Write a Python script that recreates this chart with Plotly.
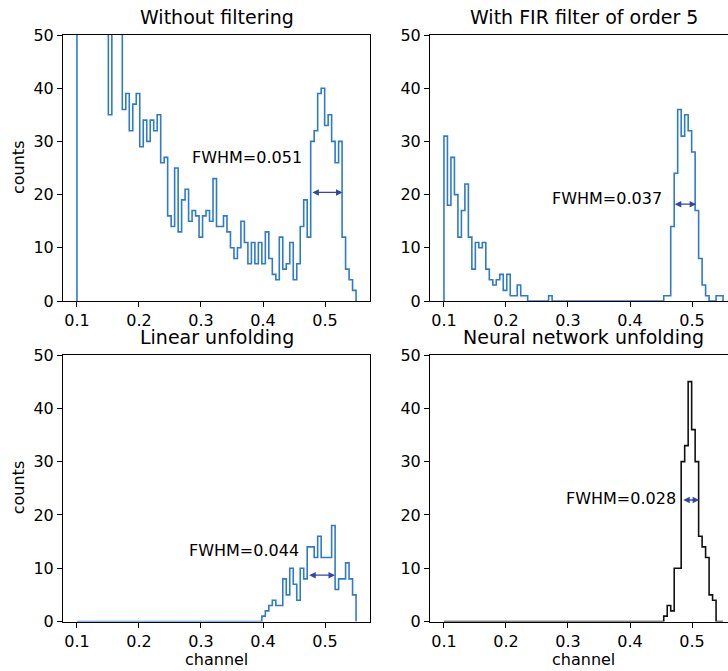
import numpy as np
import plotly.graph_objects as go

# ---- histogram binning (80 bins over the channel window) ----
bin_lo, bin_hi, n_bins = 0.1, 0.55, 80

panel_titles = [
    "Without filtering",
    "With FIR filter of order 5",
    "Linear unfolding",
    "Neural network unfolding",
]

# counts per bin, one list per processing method
counts_raw = [
    90, 72, 64, 60, 57, 55, 56, 53, 52, 35, 55, 57, 52,
    36, 39, 32, 37, 39, 29, 34, 30, 34, 32, 35, 26, 27,
    16, 14, 25, 13, 19, 21, 15, 17, 16, 12, 16, 17, 15, 23,
    14, 14, 16, 13, 10, 8, 10, 15, 11, 7, 11, 7, 11, 7,
    13, 8, 5, 4, 12, 6, 7, 11, 4, 7, 14, 19, 12,
    30, 32, 39, 40, 33, 35, 30, 26, 30, 12, 6, 4, 2,
]
counts_fir = [
    31, 18, 27, 20, 12, 17, 22, 12, 6, 11, 10, 11, 6, 4, 3, 4, 5, 2, 5, 1,
    1, 3, 1, 1, 0, 0, 0, 0, 0, 0, 1, 0, 0, 0, 0, 0, 0, 0, 0, 0,
    0, 0, 0, 0, 0, 0, 0, 0, 0, 0, 0, 0, 0, 0, 0, 0, 0, 0, 0, 0,
    0, 0, 0, 1, 1, 14, 24, 36, 31, 35, 32, 28, 17, 8, 3, 1, 0, 0, 1, 1,
]
counts_linear = [0] * 53 + [
    1, 2, 3, 4, 3, 3, 8, 5, 10, 7, 4, 10, 8, 14, 14, 12, 16, 12, 12, 12,
    18, 6, 8, 8, 11, 8, 5,
]
counts_nn = [0] * 63 + [
    1, 3, 2, 10, 10, 30, 33, 45, 36, 30, 16, 14, 12, 5, 4, 0, 0,
]

# FWHM annotations: value, arrow centre, arrow height, label anchor (right edge)
fwhm_values = [0.051, 0.037, 0.044, 0.028]
fwhm_centers = [0.5027, 0.4882, 0.4941, 0.4974]
fwhm_heights = [20.4, 18.2, 8.7, 22.8]
fwhm_label_x = [0.4655, 0.4542, 0.4607, 0.4768]
fwhm_label_y = [26.9, 19.2, 13.3, 23.0]

x_ticks = [0.1, 0.2, 0.3, 0.4, 0.5]
x_tick_labels = ["0.1", "0.2", "0.3", "0.4", "0.5"]
y_ticks = [0, 10, 20, 30, 40, 50]
y_tick_labels = ["0", "10", "20", "30", "40", "50"]

all_counts = [counts_raw, counts_fir, counts_linear, counts_nn]
line_colors = ["#2f7bc8", "#2f7bc8", "#2f7bc8", "#111111"]
arrow_color = "#3446a4"

# ---- figure geometry (pixels) ----
W, H = 728, 671
col_px = [(63, 370), (430, 737)]
row_px = [(35, 301), (355, 621.5)]
pad = 0.05 * (bin_hi - bin_lo)
x_min, x_max = bin_lo - pad, bin_hi + pad

FONT = "DejaVu Sans"
fig = go.Figure()
edges = np.linspace(bin_lo, bin_hi, n_bins + 1)

annotations = []
for i in range(4):
    r, c = divmod(i, 2)
    n = "" if i == 0 else str(i + 1)
    xa, ya = "x" + n, "y" + n
    counts = np.asarray(all_counts[i], dtype=float)

    # step outline of the histogram
    xs = np.repeat(edges, 2)
    ys = np.concatenate([[0.0], np.repeat(counts, 2), [0.0]])
    fig.add_trace(go.Scatter(
        x=xs, y=ys, mode="lines", xaxis=xa, yaxis=ya,
        line=dict(color=line_colors[i], width=1.6), hoverinfo="skip",
        showlegend=False,
    ))

    x0p, x1p = col_px[c]
    vis_right = min(x1p, W)
    x_hi = x_min + (x_max - x_min) * (vis_right - x0p) / (x1p - x0p)
    y0p, y1p = row_px[r]

    axis_common = dict(
        showline=True, linecolor="black", linewidth=1,
        ticks="outside", ticklen=5, tickwidth=1, tickcolor="black",
        showgrid=False, zeroline=False, automargin=False,
        tickfont=dict(family=FONT, size=16, color="black"),
    )
    fig.update_layout({
        ("xaxis" + n): dict(
            axis_common, domain=[x0p / W, vis_right / W], range=[x_min, x_hi],
            tickvals=x_ticks, ticktext=x_tick_labels, mirror=True,
            anchor=ya,
        ),
        ("yaxis" + n): dict(
            axis_common, domain=[1 - y1p / H, 1 - y0p / H], range=[0, 50],
            tickvals=y_ticks, ticktext=y_tick_labels,
            mirror=(c == 0), anchor=xa,
        ),
    })

    # subplot title
    annotations.append(dict(
        text=panel_titles[i], xref="paper", yref="paper",
        x=(x0p + x1p) / 2 / W, y=1 - (y0p - 18) / H,
        xanchor="center", yanchor="middle", showarrow=False,
        font=dict(family=FONT, size=19, color="black"),
    ))

    # FWHM double arrow
    half = fwhm_values[i] / 2
    annotations.append(dict(
        text="", xref=xa, yref=ya, axref=xa, ayref=ya,
        x=fwhm_centers[i] + half, y=fwhm_heights[i],
        ax=fwhm_centers[i] - half, ay=fwhm_heights[i],
        showarrow=True, arrowhead=2, arrowside="end+start",
        arrowsize=1, arrowwidth=1.3, arrowcolor=arrow_color,
    ))
    annotations.append(dict(
        text=f"FWHM={fwhm_values[i]:.3f}", xref=xa, yref=ya,
        x=fwhm_label_x[i], y=fwhm_label_y[i],
        xanchor="right", yanchor="middle", showarrow=False,
        font=dict(family=FONT, size=16, color="black"),
    ))

    if c == 0:
        annotations.append(dict(
            text="counts", xref="paper", yref="paper",
            x=18 / W, y=1 - (y0p + y1p) / 2 / H, textangle=-90,
            xanchor="center", yanchor="middle", showarrow=False,
            font=dict(family=FONT, size=16, color="black"),
        ))
    if r == 1:
        annotations.append(dict(
            text="channel", xref="paper", yref="paper",
            x=(x0p + x1p) / 2 / W, y=1 - 659 / H,
            xanchor="center", yanchor="middle", showarrow=False,
            font=dict(family=FONT, size=16, color="black"),
        ))

fig.update_layout(
    width=W, height=H, margin=dict(l=0, r=0, t=0, b=0, autoexpand=False),
    paper_bgcolor="white", plot_bgcolor="white",
    annotations=annotations, showlegend=False,
    font=dict(family=FONT, color="black"),
)

fig.write_html("out.html", config={"displayModeBar": False})
